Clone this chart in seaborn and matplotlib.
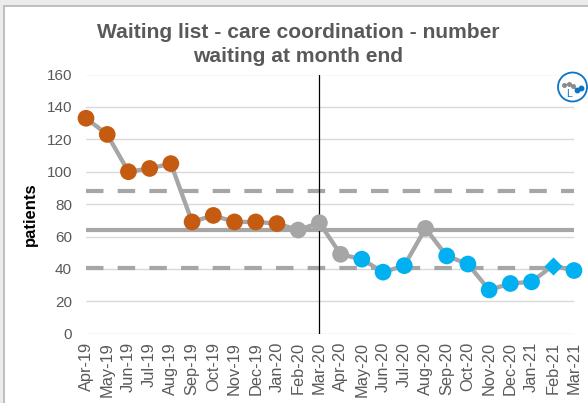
import matplotlib
matplotlib.use("Agg")
import matplotlib.pyplot as plt
from matplotlib.patches import Rectangle, Circle
import pandas as pd
import seaborn as sns

# data
months = ["Apr-19", "May-19", "Jun-19", "Jul-19", "Aug-19", "Sep-19", "Oct-19", "Nov-19",
          "Dec-19", "Jan-20", "Feb-20", "Mar-20", "Apr-20", "May-20", "Jun-20", "Jul-20",
          "Aug-20", "Sep-20", "Oct-20", "Nov-20", "Dec-20", "Jan-21", "Feb-21", "Mar-21"]
waiting = [133, 123, 100, 102, 105, 69, 73, 69, 69, 68, 64, 68.5,
           49, 46, 38, 42, 65, 48, 43, 27, 31, 32, 42, 39]
status = ["high"] * 10 + ["normal"] * 3 + ["low"] * 3 + ["normal"] + ["low"] * 7
mean_line = 64
upper_limit = 88
lower_limit = 40.5
y_ticks = [0, 20, 40, 60, 80, 100, 120, 140, 160]
split_month = "Mar-20"

GREY = "#A6A6A6"
TEXT = "#595959"
colours = {"high": "#C55A11", "normal": GREY, "low": "#00B0F0"}

df = pd.DataFrame({"pos": range(len(months)), "month": months, "waiting": waiting, "status": status})

sns.set_theme(style="white")
plt.rcParams["font.family"] = ["Liberation Sans", "DejaVu Sans"]

W, H = 588, 403
fig = plt.figure(figsize=(W / 100, H / 100), dpi=100, facecolor="white")
ax = fig.add_axes([86 / W, 1 - 333.7 / H, 488 / W, 259.2 / H])
ax.set_facecolor("none")

# outer window frame of the screenshot
fig.patches.append(Rectangle((0, 1 - 5 / H), 1, 5 / H, transform=fig.transFigure, fc="#EBEBEB", ec="none"))
fig.patches.append(Rectangle((0, 1 - 6.5 / H), 1, 1.5 / H, transform=fig.transFigure, fc="#BFBFBF", ec="none"))
fig.patches.append(Rectangle((0, 0), 3 / W, 1, transform=fig.transFigure, fc="#EBEBEB", ec="none"))
fig.patches.append(Rectangle((3 / W, 0), 1.5 / W, 1 - 5 / H, transform=fig.transFigure, fc="#BFBFBF", ec="none"))

# gridlines
ax.set_ylim(0, 160)
ax.set_xlim(0, len(months) - 1)
ax.set_yticks(y_ticks)
ax.yaxis.grid(True, color="#D9D9D9", lw=1.0)
ax.set_axisbelow(True)

# control limits and mean
ax.axhline(upper_limit, color=GREY, lw=3.0, dashes=(4.2, 3.4), zorder=1.5)
ax.axhline(lower_limit, color=GREY, lw=3.0, dashes=(4.2, 3.4), zorder=1.5)
ax.axhline(mean_line, color=GREY, lw=3.0, zorder=1.6)

# the series
sns.lineplot(data=df, x="pos", y="waiting", color=GREY, lw=3.1, ax=ax, zorder=2, clip_on=False)
plain = df[df["month"] != "Feb-21"]
sns.scatterplot(data=plain, x="pos", y="waiting", hue="status", palette=colours, s=145,
                linewidth=0, ax=ax, zorder=3, clip_on=False, legend=False)
sns.scatterplot(data=df[df["month"] == "Feb-21"], x="pos", y="waiting", color=colours["low"],
                marker="D", s=85, linewidth=0, ax=ax, zorder=3, clip_on=False, legend=False)

ax.axvline(months.index(split_month) - 0.03, color="black", lw=0.9, zorder=2.5)

ax.set_xticks(df["pos"])
ax.set_xticklabels(months, rotation=90)
ax.tick_params(axis="both", length=0, labelcolor=TEXT)
ax.tick_params(axis="x", pad=6, labelsize=11.8)
ax.tick_params(axis="y", pad=10, labelsize=11)
ax.set_xlabel("")
ax.set_ylabel("")
sns.despine(ax=ax, left=True, bottom=True)

fig.text(30 / W, 1 - 214 / H, "patients", rotation=90, ha="center", va="center",
         fontsize=12, fontweight="bold", color="black")
fig.text(298 / W, 1 - 44.5 / H, "Waiting list - care coordination - number\nwaiting at month end",
         ha="center", va="center", fontsize=15.1, fontweight="bold", color=TEXT, linespacing=1.3)

# small badge top right
icon = fig.add_axes([556.5 / W, 1 - 103 / H, 32 / W, 32 / H])
icon.set_xlim(0, 32)
icon.set_ylim(32, 0)
icon.axis("off")
icon.add_patch(Circle((16, 16), 14.5, fc="white", ec="#0B74C4", lw=1.3))
icon.plot([7.5, 12.5, 16.5], [14, 13, 15], "-o", color="#8C8C8C", ms=2.6, lw=0.8)
icon.plot([16.5, 20.5, 24.5], [15, 19, 17], "-", color="#8C8C8C", lw=0.8)
icon.plot([20.5, 24.5], [19, 17], "o", color="#0B74C4", ms=3.2)
icon.text(12.5, 23, "L", color="#0B74C4", fontsize=7.5, ha="center", va="center")

fig.savefig("out.png", dpi=100)
